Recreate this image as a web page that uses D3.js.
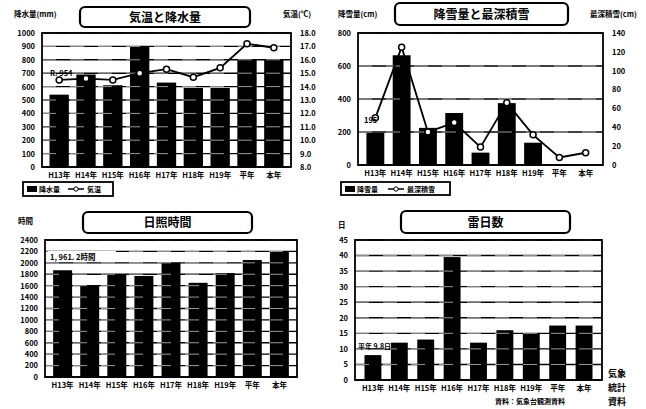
<!DOCTYPE html>
<html><head><meta charset="utf-8">
<script src="https://cdn.jsdelivr.net/npm/d3@7"></script>
<style>
body{margin:0;background:#fff;}
text{font-family:"Noto Sans CJK JP","Noto Sans",sans-serif;font-weight:700;fill:#000;}
</style></head>
<body><svg id="c" width="646" height="409"></svg>
<script>
const categories = ["H13年","H14年","H15年","H16年","H17年","H18年","H19年","平年","本年"];
const precip = [540,690,610,900,630,590,590,800,800];
const temp = [14.5,14.6,14.5,15.0,15.3,14.7,15.4,17.2,16.9];
const snowfall = [195,665,225,315,75,375,135,0,0];
const snowDepth = [50,125,35,45,19,66,32,8,13];
const sunshine = [1870,1610,1790,1770,2000,1650,1820,2050,2190];
const thunder = [8,12,13,39.5,12,16,15,17.5,17.5];
const precipTicks = d3.range(0,1001,100);
const tempTicks = d3.range(8,18.01,1);
const snowTicks = [0,200,400,600,800];
const depthTicks = d3.range(0,141,20);
const sunTicks = d3.range(0,2401,200);
const thunderTicks = d3.range(0,46,5);

const svg = d3.select("#c");

function titleBox(x0,y0,x1,y1,label){
  svg.append("rect").attr("x",x0).attr("y",y0).attr("width",x1-x0).attr("height",y1-y0)
    .attr("rx",5).attr("fill","#fff").attr("stroke","#000").attr("stroke-width",2.2);
  svg.append("text").attr("x",(x0+x1)/2).attr("y",(y0+y1)/2+4.5).attr("text-anchor","middle")
    .attr("font-size",12).text(label);
}

function panel(o){
  const g = svg.append("g");
  const x = d3.scaleBand().domain(categories).range([o.l,o.r]).padding(o.pad);
  const y = d3.scaleLinear().domain(o.yDomain).range([o.b,o.t]);
  g.selectAll("line.grid").data(o.yTicks).enter().append("line")
    .attr("x1",o.l).attr("x2",o.r).attr("y1",d=>y(d)).attr("y2",d=>y(d))
    .attr("stroke","#000").attr("stroke-width",1.4);
  g.selectAll("rect.bar").data(o.values).enter().append("rect")
    .attr("x",(d,i)=>x(categories[i])).attr("width",x.bandwidth())
    .attr("y",d=>y(d)).attr("height",d=>o.b-y(d)).attr("fill","#000");
  g.selectAll("line.wg").data(o.yTicks.slice(1)).enter().append("line")
    .attr("x1",o.l).attr("x2",o.r).attr("y1",d=>y(d)).attr("y2",d=>y(d))
    .attr("stroke","#fff").attr("stroke-width",0.6).attr("stroke-dasharray","14,14");
  g.append("rect").attr("x",o.l).attr("y",o.t).attr("width",o.r-o.l).attr("height",o.b-o.t)
    .attr("fill","none").attr("stroke","#000").attr("stroke-width",1.8);
  const ax = g.append("g").attr("transform",`translate(${o.l-4},0)`)
    .call(d3.axisLeft(y).tickValues(o.yTicks).tickSize(0).tickFormat(o.fmt||d3.format("d")));
  ax.select(".domain").remove();
  ax.selectAll("text").attr("font-size",7.5).attr("font-family","'Noto Sans CJK JP',sans-serif").attr("font-weight",700);
  const xa = g.append("g").attr("transform",`translate(0,${o.b+3})`)
    .call(d3.axisBottom(x).tickSize(0));
  xa.select(".domain").remove();
  xa.selectAll("text").attr("font-size",7.5).attr("font-family","'Noto Sans CJK JP',sans-serif").attr("font-weight",700);
  if(o.lineValues){
    const y2 = d3.scaleLinear().domain(o.y2Domain).range([o.b,o.t]);
    const ar = g.append("g").attr("transform",`translate(${o.r+6},0)`)
      .call(d3.axisRight(y2).tickValues(o.y2Ticks).tickSize(0).tickFormat(o.fmt2||d3.format("d")));
    ar.select(".domain").remove();
    ar.selectAll("text").attr("font-size",7.5).attr("font-family","'Noto Sans CJK JP',sans-serif").attr("font-weight",700);
    const line = d3.line().x((d,i)=>x(categories[i])+x.bandwidth()/2).y(d=>y2(d));
    g.append("path").datum(o.lineValues).attr("d",line).attr("fill","none")
      .attr("stroke","#000").attr("stroke-width",1.8);
    g.selectAll("circle.pt").data(o.lineValues).enter().append("circle")
      .attr("cx",(d,i)=>x(categories[i])+x.bandwidth()/2).attr("cy",d=>y2(d)).attr("r",3)
      .attr("fill","#fff").attr("stroke","#000").attr("stroke-width",1.5);
  }
  return {x,y};
}

// Panel 1
titleBox(80,7,250,27,"気温と降水量");
svg.append("text").attr("x",14).attr("y",17).attr("font-size",7.5).text("降水量(mm)");
svg.append("text").attr("x",283).attr("y",17).attr("font-size",7.5).text("気温(℃)");
panel({l:42,r:291,t:33,b:167,pad:0.28,values:precip,yDomain:[0,1000],yTicks:precipTicks,
  lineValues:temp,y2Domain:[8,18],y2Ticks:tempTicks,fmt2:d3.format(".1f")});
svg.append("text").attr("x",50).attr("y",76).attr("font-size",7.5).text("R. 954");
svg.append("rect").attr("x",23).attr("y",182).attr("width",90).attr("height",14).attr("fill","#fff").attr("stroke","#000").attr("stroke-width",1.8);
svg.append("rect").attr("x",27).attr("y",186).attr("width",10).attr("height",6).attr("fill","#000");
svg.append("text").attr("x",39).attr("y",192).attr("font-size",7).text("降水量");
svg.append("line").attr("x1",68).attr("x2",84).attr("y1",189).attr("y2",189).attr("stroke","#000").attr("stroke-width",1.5);
svg.append("circle").attr("cx",76).attr("cy",189).attr("r",2.2).attr("fill","#fff").attr("stroke","#000");
svg.append("text").attr("x",87).attr("y",192).attr("font-size",7).text("気温");

// Panel 2
titleBox(395,3,568,25,"降雪量と最深積雪");
svg.append("text").attr("x",338).attr("y",17).attr("font-size",7.5).text("降雪量(cm)");
svg.append("text").attr("x",590).attr("y",17).attr("font-size",7.5).text("最深積雪(cm)");
panel({l:358,r:603,t:33,b:165,pad:0.32,values:snowfall,yDomain:[0,800],yTicks:snowTicks,
  lineValues:snowDepth,y2Domain:[0,140],y2Ticks:depthTicks});
svg.append("text").attr("x",364).attr("y",123).attr("font-size",7.5).text("195");
svg.append("rect").attr("x",341).attr("y",182).attr("width",109).attr("height",13).attr("fill","#fff").attr("stroke","#000").attr("stroke-width",1.8);
svg.append("rect").attr("x",345).attr("y",186).attr("width",10).attr("height",6).attr("fill","#000");
svg.append("text").attr("x",357).attr("y",192).attr("font-size",7).text("降雪量");
svg.append("line").attr("x1",388).attr("x2",404).attr("y1",189).attr("y2",189).attr("stroke","#000").attr("stroke-width",1.5);
svg.append("circle").attr("cx",396).attr("cy",189).attr("r",2.2).attr("fill","#fff").attr("stroke","#000");
svg.append("text").attr("x",407).attr("y",192).attr("font-size",7).text("最深積雪");

// Panel 3
titleBox(83,212,252,233,"日照時間");
svg.append("text").attr("x",18).attr("y",224).attr("font-size",7.5).text("時間");
panel({l:45,r:297,t:240,b:377,pad:0.3,values:sunshine,yDomain:[0,2400],yTicks:sunTicks});
svg.append("rect").attr("x",48).attr("y",251).attr("width",68).attr("height",11).attr("fill","#fff");
svg.append("text").attr("x",50).attr("y",260).attr("font-size",7.5).text("1, 961. 2時間");

// Panel 4
titleBox(401,211,570,233,"雷日数");
svg.append("text").attr("x",338).attr("y",228).attr("font-size",7.5).text("日");
panel({l:355,r:602,t:240,b:380,pad:0.36,values:thunder,yDomain:[0,45],yTicks:thunderTicks});
svg.append("text").attr("x",358).attr("y",349).attr("font-size",7).text("平年 9.8日");
svg.append("text").attr("x",495).attr("y",404).attr("font-size",7).text("資料：気象台観測資料");
svg.append("text").attr("x",608).attr("y",377).attr("font-size",9).text("気象");
svg.append("text").attr("x",608).attr("y",391).attr("font-size",9).text("統計");
svg.append("text").attr("x",608).attr("y",405).attr("font-size",9).text("資料");
</script></body></html>
